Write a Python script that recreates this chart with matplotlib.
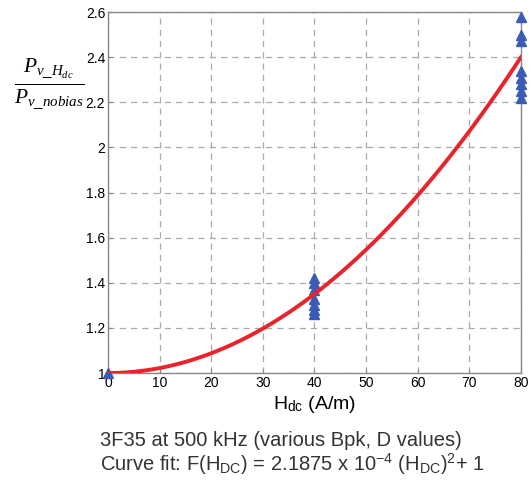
import matplotlib
matplotlib.use("Agg")
import matplotlib.pyplot as plt
import numpy as np

plt.rcParams['font.family'] = ['Liberation Sans', 'DejaVu Sans']
plt.rcParams['mathtext.fontset'] = 'custom'
plt.rcParams['mathtext.rm'] = 'Liberation Sans'
plt.rcParams['mathtext.it'] = 'Liberation Serif:italic'

# measured points (Hdc, normalised loss)
h_meas = [0, 40, 40, 40, 40, 40, 40, 40, 80, 80, 80, 80, 80, 80, 80, 80]
p_meas = [1.0, 1.42, 1.40, 1.37, 1.33, 1.30, 1.28, 1.26,
          2.58, 2.50, 2.47, 2.34, 2.31, 2.28, 2.25, 2.22]

# curve fit from caption: F(H) = a*H^2 + 1
fit_a = 2.1875e-4
h_fit = np.linspace(0, 80, 200)
p_fit = fit_a * h_fit**2 + 1

xticks = [0, 10, 20, 30, 40, 50, 60, 70, 80]
yticks = [1, 1.2, 1.4, 1.6, 1.8, 2, 2.2, 2.4, 2.6]
ylabels = ["1", "1.2", "1.4", "1.6", "1.8", "2", "2.2", "2.4", "2.6"]

fig = plt.figure(figsize=(5.31, 4.86), dpi=100)
ax = fig.add_axes([0.2034, 0.2325, 0.7776, 0.7425])

ax.plot(h_meas, p_meas, '^', color='#3b5bb5', markersize=7.5, clip_on=False, zorder=3)
ax.plot(h_fit, p_fit, color='#e8232a', linewidth=2.8, zorder=4)

ax.set_xlim(0, 80)
ax.set_ylim(1, 2.6)
ax.set_xticks(xticks)
ax.set_yticks(yticks)
ax.set_yticklabels(ylabels)
ax.tick_params(labelsize=10, length=3, color='#888888', direction='in', pad=2)
ax.grid(True, linestyle=(0, (5, 4)), color='#aaaaaa', linewidth=0.9)
for s in ax.spines.values():
    s.set_color('#888888')
    s.set_linewidth(1.0)

ax.set_xlabel(r"H$_{\mathrm{dc}}$ (A/m)", fontsize=14, labelpad=3)

fig.text(0.092, 0.827, r"$\frac{P_{v\_H_{dc}}}{P_{v\_nobias}}$", fontsize=22,
         ha='center', va='center')

fig.text(0.188, 0.093, "3F35 at 500 kHz (various Bpk, D values)", fontsize=14.5,
         ha='left', va='center', color='#333333')
fig.text(0.188, 0.045, r"Curve fit: F(H$_{\mathrm{DC}}$) = 2.1875 x 10$^{\mathrm{-4}}$ (H$_{\mathrm{DC}}$)$^{\mathrm{2}}$+ 1",
         fontsize=14.5, ha='left', va='center', color='#333333')

fig.savefig("out.png", dpi=100)
